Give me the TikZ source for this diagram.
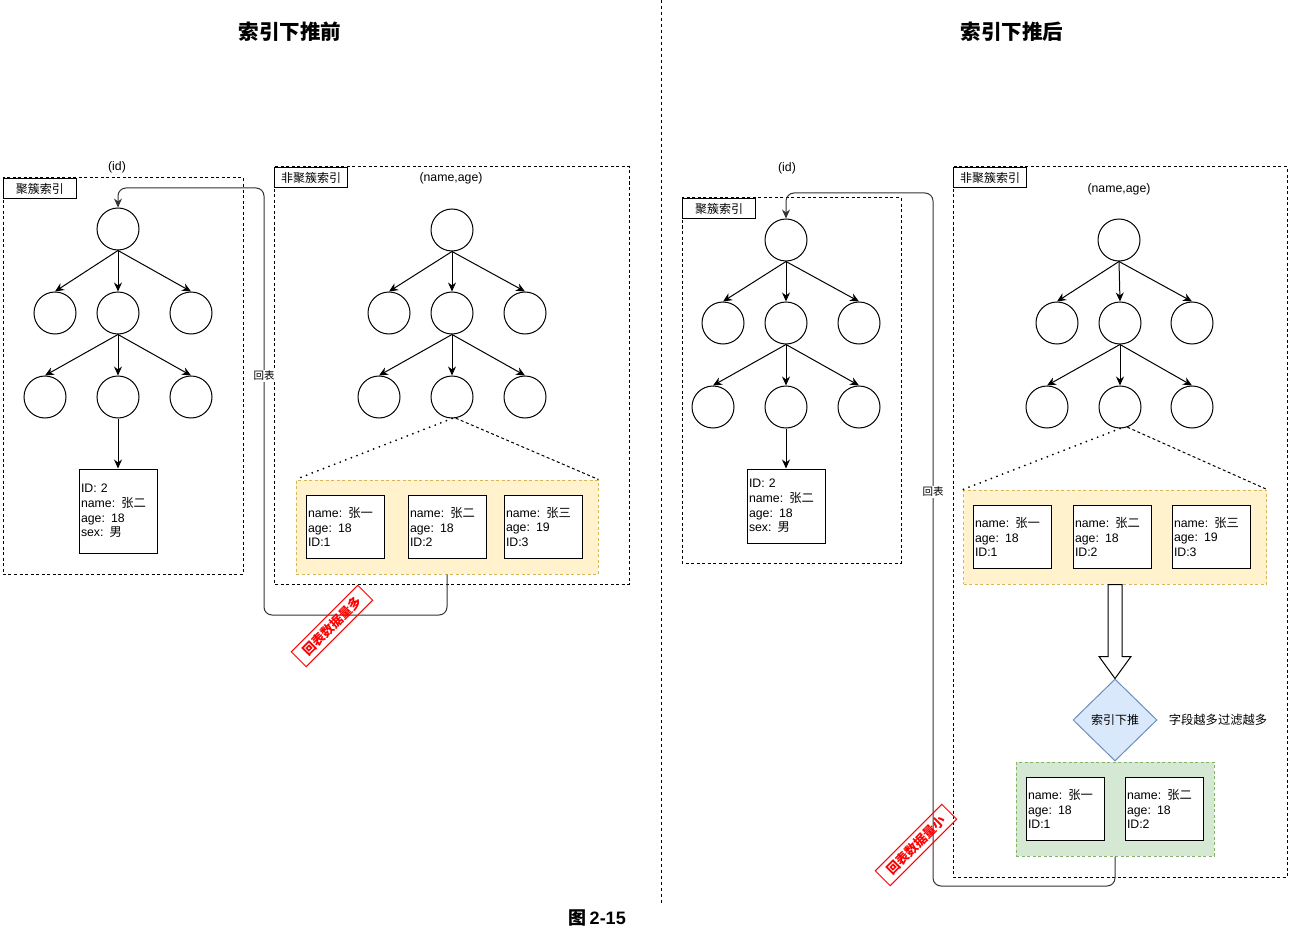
\documentclass[tikz,border=0pt]{standalone}
\usepackage{fontspec}
\setmainfont{Liberation Sans}[WordSpace=0.7]
\newfontfamily\cjk{Noto Sans CJK SC}
\newcommand{\zh}[1]{{\cjk #1}}
\usetikzlibrary{arrows.meta,calc,shapes.geometric}
\definecolor{ylwfill}{HTML}{FFF2CC}
\definecolor{ylwline}{HTML}{D6B656}
\definecolor{grnfill}{HTML}{D5E8D4}
\definecolor{grnline}{HTML}{82B366}
\definecolor{bluefill}{HTML}{DAE8FC}
\definecolor{blueline}{HTML}{6C8EBF}
\begin{document}
\begin{tikzpicture}[x=1pt,y=-1pt,
  nd/.style={circle, draw, line width=1pt, minimum size=42pt, inner sep=0pt},
  rec/.style={draw, fill=white, line width=1pt, minimum width=78pt, minimum height=63pt, text width=74pt, inner sep=2pt, align=left, font=\fontsize{12.3}{14.7}\selectfont},
  tag/.style={draw, fill=white, line width=1pt, anchor=north west, minimum width=73pt, minimum height=20pt, inner sep=0pt, font=\fontsize{12}{14}\selectfont\cjk},
  lbl/.style={font=\fontsize{12.3}{14}\selectfont},
  frame/.style={draw, line width=1pt, dash pattern=on 3pt off 2.5pt},
  ar/.style={-{Stealth[length=9pt,width=8pt]}, line width=1pt},
  back/.style={ar, draw=black!80, rounded corners=8pt},
  dots/.style={line width=2pt, dash pattern=on 0pt off 6pt, line cap=round},
  stamp/.style={draw=red, text=red, line width=1pt, rotate=45, minimum width=94pt, minimum height=21pt, inner sep=0pt, font=\fontsize{12.8}{14}\selectfont\cjk\bfseries}
]
\useasboundingbox (0,0) rectangle (1290,928);
\node[font=\fontsize{20.5}{24}\selectfont\cjk\bfseries] (t0) at (290,32){索引下推前};
\node[font=\fontsize{20.5}{24}\selectfont\cjk\bfseries] (t1) at (1012,32){索引下推后};
\node[font=\fontsize{18}{22}\selectfont\bfseries] (cap) at (597,918){\zh{图} 2-15};
\draw[dashed] (661,0) -- (661,905);
\draw[frame] (3,178) rectangle (243,574);
\node[tag] (tg0) at (3,178){聚簇索引};
\node[lbl] (id0) at (117,167){(id)};
\node[nd] (ca0) at (118,229){};
\node[nd] (ca1) at (55,313){};
\node[nd] (ca2) at (118,313){};
\node[nd] (ca3) at (191,313){};
\node[nd] (ca4) at (45,397){};
\node[nd] (ca5) at (118,397){};
\node[nd] (ca6) at (191,397){};
\node[rec, minimum height=84pt] (cad) at (118,511){ID: 2\\name: \zh{张二}\\age: 18\\sex: \zh{男}};
\draw[ar](ca0.south) -- (ca1.north);
\draw[ar](ca0.south) -- (ca2.north);
\draw[ar](ca0.south) -- (ca3.north);
\draw[ar](ca2.south) -- (ca4.north);
\draw[ar](ca2.south) -- (ca5.north);
\draw[ar](ca2.south) -- (ca6.north);
\draw[ar](ca5.south) -- (cad.north);
\draw[frame] (274,167) rectangle (629,584);
\node[tag] (tg1) at (274,167){非聚簇索引};
\node[lbl] (na) at (451,178){(name,age)};
\node[nd] (na0) at (452,230){};
\node[nd] (na1) at (389,313){};
\node[nd] (na2) at (452,313){};
\node[nd] (na3) at (525,313){};
\node[nd] (na4) at (379,397){};
\node[nd] (na5) at (452,397){};
\node[nd] (na6) at (525,397){};
\draw[ar](na0.south) -- (na1.north);
\draw[ar](na0.south) -- (na2.north);
\draw[ar](na0.south) -- (na3.north);
\draw[ar](na2.south) -- (na4.north);
\draw[ar](na2.south) -- (na5.north);
\draw[ar](na2.south) -- (na6.north);
\node[draw=ylwline, fill=ylwfill, line width=1pt, dash pattern=on 3pt off 2.5pt, minimum width=302pt, minimum height=94pt] (ya) at (447,527){};
\draw[dots](na5.south) -- (ya.north west);
\draw[frame](na5.-80) -- (ya.north east);
\node[rec] (nr1) at (345,527){name: \zh{张一}\\age: 18\\ID:1};
\node[rec] (nr2) at (447,527){name: \zh{张二}\\age: 18\\ID:2};
\node[rec] (nr3) at (543,527){name: \zh{张三}\\age: 19\\ID:3};
\coordinate (b0) at (264,615);
\coordinate (b1) at (264,188);
\draw[back](ya.south) |- (b0) -- (b1) -| (ca0.north);
\node[fill=white, inner sep=1pt, font=\fontsize{10.5}{12}\selectfont\cjk] (hb0) at (264,376){回表};
\node[stamp] (st0) at (332,626){回表数据量多};
\draw[frame] (682,198) rectangle (901,563);
\node[tag] (tg2) at (682,198){聚簇索引};
\node[lbl] (id1) at (787,168){(id)};
\node[nd] (cb0) at (786,240){};
\node[nd] (cb1) at (723,323){};
\node[nd] (cb2) at (786,323){};
\node[nd] (cb3) at (859,323){};
\node[nd] (cb4) at (713,407){};
\node[nd] (cb5) at (786,407){};
\node[nd] (cb6) at (859,407){};
\node[rec, minimum height=74pt] (cbd) at (786,506){ID: 2\\name: \zh{张二}\\age: 18\\sex: \zh{男}};
\draw[ar](cb0.south) -- (cb1.north);
\draw[ar](cb0.south) -- (cb2.north);
\draw[ar](cb0.south) -- (cb3.north);
\draw[ar](cb2.south) -- (cb4.north);
\draw[ar](cb2.south) -- (cb5.north);
\draw[ar](cb2.south) -- (cb6.north);
\draw[ar](cb5.south) -- (cbd.north);
\draw[frame] (953,167) rectangle (1287,877);
\node[tag] (tg3) at (953,167){非聚簇索引};
\node[lbl] (nb) at (1119,189){(name,age)};
\node[nd] (nb0) at (1119,240){};
\node[nd] (nb1) at (1057,323){};
\node[nd] (nb2) at (1120,323){};
\node[nd] (nb3) at (1192,323){};
\node[nd] (nb4) at (1047,407){};
\node[nd] (nb5) at (1120,407){};
\node[nd] (nb6) at (1192,407){};
\draw[ar](nb0.south) -- (nb1.north);
\draw[ar](nb0.south) -- (nb2.north);
\draw[ar](nb0.south) -- (nb3.north);
\draw[ar](nb2.south) -- (nb4.north);
\draw[ar](nb2.south) -- (nb5.north);
\draw[ar](nb2.south) -- (nb6.north);
\node[draw=ylwline, fill=ylwfill, line width=1pt, dash pattern=on 3pt off 2.5pt, minimum width=303pt, minimum height=94pt] (yb) at (1115,537){};
\draw[dots](nb5.south) -- (yb.north west);
\draw[frame](nb5.-70) -- (yb.north east);
\node[rec] (mr1) at (1012,537){name: \zh{张一}\\age: 18\\ID:1};
\node[rec] (mr2) at (1112,537){name: \zh{张二}\\age: 18\\ID:2};
\node[rec] (mr3) at (1211,537){name: \zh{张三}\\age: 19\\ID:3};
\node[diamond, draw=blueline, fill=bluefill, line width=1pt, aspect=1, inner sep=0pt, minimum width=84pt, minimum height=82pt, font=\fontsize{12}{14}\selectfont\cjk] (db) at (1115,720){索引下推};
\node[font=\fontsize{12.3}{14}\selectfont\cjk] (fl) at (1218,720){字段越多过滤越多};
\draw[line width=1pt, fill=white] ($(yb.south)+(-7,0)$) -- ($(db.north)+(-7,-22)$) -- ++(-9,0) -- (db.north) -- ($(db.north)+(16,-22)$) -- ++(-9,0) -- ($(yb.south)+(7,0)$) -- cycle;
\node[draw=grnline, fill=grnfill, line width=1pt, dash pattern=on 3pt off 2.5pt, minimum width=198pt, minimum height=94pt] (yg) at (1115,809){};
\node[rec] (gr1) at (1065,809){name: \zh{张一}\\age: 18\\ID:1};
\node[rec] (gr2) at (1164,809){name: \zh{张二}\\age: 18\\ID:2};
\coordinate (e0) at (933,886);
\coordinate (e1) at (933,193);
\draw[back](yg.south) |- (e0) -- (e1) -| (cb0.north);
\node[fill=white, inner sep=1pt, font=\fontsize{10.5}{12}\selectfont\cjk] (hb1) at (933,492){回表};
\node[stamp] (st1) at (916,845){回表数据量小};
\end{tikzpicture}
\end{document}
